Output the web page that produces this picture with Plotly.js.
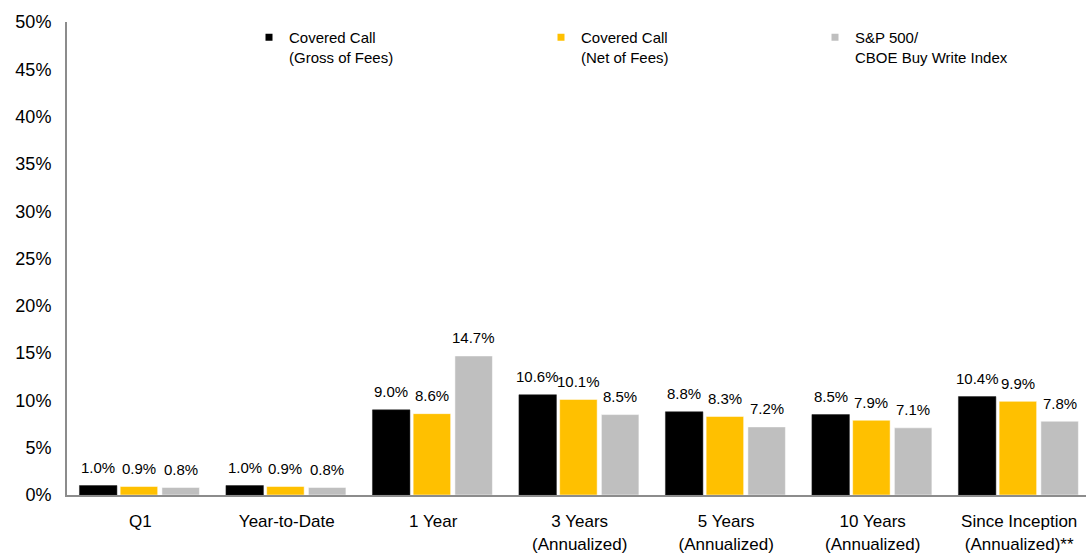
<!DOCTYPE html>
<html>
<head>
<meta charset="utf-8">
<script src="https://cdn.plot.ly/plotly-3.0.1.min.js"></script>
<style>html,body{margin:0;padding:0;background:#fff;}#chart{width:1086px;height:553px;}</style>
</head>
<body>
<div id="chart"></div>
<script>
// ---- data ----
const categories = ["Q1", "Year-to-Date", "1 Year", "3 Years<br>(Annualized)", "5 Years<br>(Annualized)", "10 Years<br>(Annualized)", "Since Inception<br>(Annualized)**"];
const grossValues = [1.0, 1.0, 9.0, 10.6, 8.8, 8.5, 10.4];
const netValues = [0.9, 0.9, 8.6, 10.1, 8.3, 7.9, 9.9];
const indexValues = [0.8, 0.8, 14.7, 8.5, 7.2, 7.1, 7.8];
const seriesNames = ["Covered Call<br>(Gross of Fees)", "Covered Call<br>(Net of Fees)", "S&P 500/<br>CBOE Buy Write Index"];
const yTickValues = [0, 5, 10, 15, 20, 25, 30, 35, 40, 45, 50];

// ---- style ----
const colors = ["#000000", "#FFC000", "#BFBFBF"];
const barWidth = 0.256;
const barOffsets = [-0.415, -0.137, 0.148];
const FONT = "Arial, 'Liberation Sans', sans-serif";
const W = 1086, H = 553;

const seriesValues = [grossValues, netValues, indexValues];
const xIdx = categories.map((c, i) => i);

const traces = [];
seriesValues.forEach((vals, s) => {
  traces.push({
    type: "bar",
    x: xIdx,
    y: vals,
    width: barWidth,
    offset: barOffsets[s],
    marker: {color: colors[s], line: {color: s === 0 ? "#222" : "#fff", width: 0.5}},
    showlegend: false,
    hoverinfo: "y"
  });
});
// legend entries (small square markers)
const legendIds = ["legend", "legend2", "legend3"];
seriesNames.forEach((name, s) => {
  traces.push({
    type: "scatter",
    mode: "markers",
    x: [null], y: [null],
    name: name,
    marker: {symbol: "square", size: 7, color: colors[s]},
    legend: legendIds[s],
    showlegend: true
  });
});

// data labels from values
const annotations = [];
seriesValues.forEach((vals, s) => {
  vals.forEach((v, i) => {
    annotations.push({
      x: i + barOffsets[s] + barWidth / 2,
      y: v,
      xref: "x", yref: "y",
      text: v.toFixed(1) + "%",
      showarrow: false,
      yanchor: "middle",
      xanchor: "center",
      yshift: 18,
      font: {family: FONT, size: 15, color: "#000"}
    });
  });
});

const legendLeftPx = [249, 541, 815];
const legendTopPx = 21;
function legendCfg(px) {
  return {
    xref: "container", yref: "container",
    x: px / W, y: 1 - legendTopPx / H,
    xanchor: "left", yanchor: "top",
    bgcolor: "rgba(0,0,0,0)",
    font: {family: FONT, size: 15, color: "#000"},
    valign: "top",
    tracegroupgap: 0
  };
}

const layout = {
  width: W, height: H,
  margin: {l: 67, r: 0, t: 22, b: 58, autoexpand: false},
  paper_bgcolor: "#fff",
  plot_bgcolor: "#fff",
  barmode: "overlay",
  font: {family: FONT, color: "#000"},
  xaxis: {
    type: "linear",
    range: [-0.5, 6.456],
    tickmode: "array",
    tickvals: xIdx,
    ticktext: categories,
    tickangle: 0,
    showgrid: false,
    zeroline: false,
    showline: true,
    linecolor: "#8c8c8c",
    linewidth: 2,
    ticks: "",
    ticklabelstandoff: 10,
    tickfont: {family: FONT, size: 17, color: "#000"},
    fixedrange: true
  },
  yaxis: {
    range: [0, 50],
    tickmode: "array",
    tickvals: yTickValues,
    ticktext: yTickValues.map(v => v + "%"),
    showgrid: false,
    zeroline: false,
    showline: true,
    linecolor: "#8c8c8c",
    linewidth: 2,
    ticks: "",
    ticklabelstandoff: 10,
    tickfont: {family: FONT, size: 18, color: "#000"},
    fixedrange: true
  },
  legend: legendCfg(legendLeftPx[0]),
  legend2: legendCfg(legendLeftPx[1]),
  legend3: legendCfg(legendLeftPx[2]),
  annotations: annotations
};

Plotly.newPlot("chart", traces, layout, {displayModeBar: false, staticPlot: true});
</script>
</body>
</html>
